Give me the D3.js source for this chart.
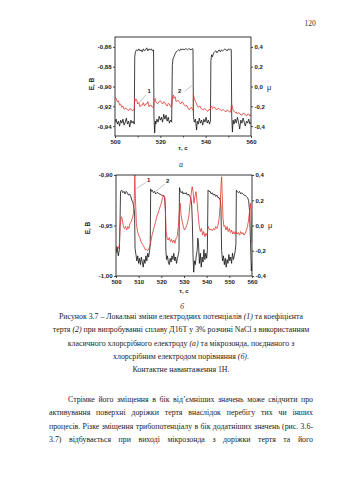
<!DOCTYPE html>
<html><head><meta charset="utf-8">
<script src="https://cdn.jsdelivr.net/npm/d3@7"></script>
<style>body{margin:0;background:#fff}svg{display:block}</style>
</head><body><svg id="c" width="339" height="480"></svg>
<script>
// ---------- DATA ----------
// Chart (a): time, s ; E, V (curve 1, red) ; mu (curve 2, black)
const aTimeTicks = [500, 520, 540, 560];
const aTimeMinor = [510, 530, 550];
const aETicks = [-0.94, -0.92, -0.90, -0.88, -0.86];
const aMuTicks = [-0.4, -0.2, 0.0, 0.2, 0.4];
const aRedE = [[500,-0.9103],[500.5,-0.9120],[501,-0.9153],[501.5,-0.9143],[502,-0.9187],[502.5,-0.9177],[503,-0.9210],[503.5,-0.9197],[504,-0.9231],[504.5,-0.9221],[505,-0.9221],[505.5,-0.9237],[506,-0.9244],[506.5,-0.9224],[507,-0.9227],[507.5,-0.9244],[508,-0.9237],[508.5,-0.9231],[508.7,-0.9120],[509,-0.9143],[509.5,-0.9130],[510,-0.9177],[510.5,-0.9163],[511,-0.9204],[511.5,-0.9190],[512,-0.9187],[512.5,-0.9163],[513,-0.9197],[513.5,-0.9177],[514,-0.9177],[514.5,-0.9153],[515,-0.9204],[515.5,-0.9187],[516,-0.9190],[516.5,-0.9210],[517,-0.9210],[517.3,-0.9130],[517.7,-0.9120],[518,-0.9153],[518.5,-0.9170],[519,-0.9170],[519.5,-0.9153],[520,-0.9143],[520.5,-0.9163],[521,-0.9177],[521.5,-0.9153],[522,-0.9163],[522.5,-0.9187],[523,-0.9197],[523.5,-0.9170],[524,-0.9177],[524.5,-0.9204],[525,-0.9204],[525.4,-0.9103],[525.8,-0.9086],[526,-0.9120],[526.5,-0.9103],[527,-0.9153],[527.5,-0.9143],[528,-0.9143],[528.5,-0.9163],[529,-0.9177],[529.5,-0.9153],[530,-0.9163],[530.5,-0.9187],[531,-0.9197],[531.5,-0.9187],[532,-0.9210],[532.5,-0.9231],[533,-0.9231],[533.5,-0.9210],[534,-0.9221],[534.5,-0.9244],[534.6,-0.9086],[535,-0.9120],[535.5,-0.9153],[536,-0.9177],[536.5,-0.9204],[537,-0.9210],[537.5,-0.9197],[538,-0.9224],[538.5,-0.9231],[539,-0.9237],[539.5,-0.9221],[540,-0.9231],[540.5,-0.9244],[541,-0.9251],[541.5,-0.9231],[542,-0.9237],[542.3,-0.9197],[542.7,-0.9204],[543,-0.9221],[543.5,-0.9210],[544,-0.9210],[544.5,-0.9231],[545,-0.9231],[545.5,-0.9221],[546,-0.9224],[546.5,-0.9237],[547,-0.9244],[547.5,-0.9231],[548,-0.9237],[548.5,-0.9251],[549,-0.9254],[549.5,-0.9237],[550,-0.9244],[550.5,-0.9258],[551,-0.9258],[551.4,-0.9177],[551.8,-0.9204],[552,-0.9231],[552.5,-0.9251],[553,-0.9264],[553.5,-0.9258],[554,-0.9278],[554.5,-0.9264],[555,-0.9271],[555.5,-0.9288],[556,-0.9288],[556.5,-0.9271],[557,-0.9271],[557.5,-0.9288],[558,-0.9298],[558.5,-0.9278],[559,-0.9278],[559.5,-0.9298],[560,-0.9288]];
const aBlackMu = [[500,-0.36],[500.5,-0.33],[501,-0.38],[501.5,-0.35],[502,-0.40],[502.5,-0.34],[503,-0.37],[503.5,-0.33],[504,-0.39],[504.5,-0.36],[505,-0.32],[505.5,-0.38],[506,-0.35],[506.5,-0.41],[507,-0.34],[507.5,-0.37],[508,-0.35],[508.5,-0.38],[508.7,0.30],[509,0.35],[509.5,0.37],[510,0.36],[510.5,0.38],[511,0.36],[511.5,0.37],[512,0.35],[512.5,0.38],[513,0.36],[513.5,0.37],[514,0.39],[514.5,0.36],[515,0.38],[515.5,0.37],[516,0.38],[516.5,0.36],[517,0.37],[517.2,-0.32],[517.5,-0.47],[517.8,-0.35],[518,-0.38],[518.5,-0.33],[519,-0.36],[519.5,-0.30],[520,-0.34],[520.5,-0.31],[521,-0.36],[521.5,-0.28],[522,-0.33],[522.5,-0.29],[523,-0.35],[523.5,-0.31],[524,-0.37],[524.5,-0.34],[525,-0.36],[525.3,0.22],[525.6,0.28],[526,0.30],[526.5,0.33],[527,0.35],[527.5,0.36],[528,0.37],[528.5,0.36],[529,0.38],[529.5,0.37],[530,0.38],[530.5,0.37],[531,0.38],[531.5,0.38],[532,0.37],[532.5,0.38],[533,0.38],[533.5,0.37],[534,0.38],[534.4,0.38],[534.6,-0.30],[535,-0.36],[535.5,-0.33],[536,-0.44],[536.3,-0.35],[536.8,-0.38],[537.2,-0.32],[537.7,-0.37],[538.2,-0.34],[538.7,-0.39],[539.2,-0.33],[539.7,-0.36],[540.2,-0.31],[540.7,-0.37],[541.2,-0.34],[541.7,-0.38],[542.1,-0.35],[542.3,0.26],[542.6,0.32],[543,0.30],[543.5,0.34],[544,0.35],[544.5,0.36],[545,0.34],[545.5,0.36],[546,0.37],[546.5,0.35],[547,0.37],[547.5,0.36],[548,0.37],[548.5,0.38],[549,0.37],[549.5,0.36],[550,0.38],[550.5,0.37],[551,0.38],[551.3,0.37],[551.5,-0.30],[551.8,-0.46],[552.1,-0.34],[552.5,-0.38],[553,-0.33],[553.5,-0.37],[554,-0.31],[554.5,-0.36],[555,-0.43],[555.5,-0.34],[556,-0.37],[556.5,-0.32],[557,-0.36],[557.5,-0.40],[558,-0.35],[558.5,-0.37],[559,-0.33],[559.5,-0.38],[560,-0.36]];

// Chart (b)
const bTimeTicks = [500, 510, 520, 530, 540, 550, 560];
const bETicks = [-1.00, -0.95, -0.90];
const bMuTicks = [-0.4, -0.2, 0.0, 0.2, 0.4];
const bRedE = [[500,-0.970],[500.5,-0.9717],[501,-0.973],[501.5,-0.969],[501.8,-0.951],[502.3,-0.9413],[502.7,-0.943],[503.2,-0.950],[503.7,-0.953],[504.2,-0.951],[504.7,-0.9545],[505.2,-0.951],[505.7,-0.953],[506.2,-0.948],[506.7,-0.946],[507.2,-0.943],[507.7,-0.938],[508,-0.928],[508.3,-0.900],[508.6,-0.9248],[509,-0.948],[509.5,-0.956],[510,-0.9595],[510.5,-0.962],[511,-0.966],[511.5,-0.9677],[512,-0.970],[512.5,-0.9717],[513,-0.9743],[513.5,-0.9737],[514,-0.975],[514.5,-0.973],[515,-0.970],[515.5,-0.9644],[516,-0.9585],[516.5,-0.9545],[517,-0.950],[517.5,-0.946],[518,-0.9413],[518.5,-0.938],[519,-0.9347],[519.5,-0.931],[520,-0.928],[520.5,-0.923],[521,-0.9198],[521.5,-0.9215],[521.8,-0.9347],[522.1,-0.956],[522.6,-0.9628],[523,-0.9644],[523.5,-0.962],[524,-0.966],[524.5,-0.9637],[525,-0.967],[525.5,-0.9644],[526,-0.9677],[526.5,-0.9628],[527,-0.9611],[527.5,-0.951],[528,-0.9347],[528.3,-0.928],[528.7,-0.9396],[529.2,-0.946],[529.7,-0.951],[530.2,-0.9545],[530.7,-0.953],[531.2,-0.950],[531.7,-0.946],[532.2,-0.9396],[532.7,-0.928],[533.2,-0.9181],[533.6,-0.9116],[534,-0.9165],[534.4,-0.928],[534.8,-0.9215],[535.3,-0.9165],[535.7,-0.9248],[536.2,-0.938],[536.7,-0.950],[537.2,-0.956],[537.7,-0.953],[538.2,-0.9595],[538.7,-0.956],[539.2,-0.9611],[539.7,-0.9578],[540.2,-0.960],[540.6,-0.951],[541,-0.953],[541.5,-0.9545],[542,-0.9535],[542.5,-0.955],[543,-0.953],[543.5,-0.9545],[544,-0.951],[544.5,-0.953],[545,-0.950],[545.5,-0.943],[546,-0.928],[546.3,-0.9116],[546.6,-0.9017],[546.9,-0.9215],[547.2,-0.943],[547.6,-0.951],[548,-0.950],[548.5,-0.9545],[549,-0.951],[549.5,-0.956],[550,-0.953],[550.5,-0.957],[551,-0.9545],[551.5,-0.9585],[552,-0.956],[552.5,-0.9585],[553,-0.956],[553.5,-0.9585],[554,-0.957],[554.5,-0.9595],[555,-0.956],[555.5,-0.9585],[556,-0.957],[556.5,-0.9595],[557,-0.9578],[557.5,-0.955],[558,-0.951],[558.5,-0.9446],[559,-0.9347],[559.4,-0.928],[559.7,-0.951],[560,-0.9677]];
const bBlackMu = [[500,-0.22],[500.5,-0.17],[501,-0.24],[501.5,-0.19],[501.8,0.05],[502,0.27],[502.5,0.28],[503,0.26],[503.5,0.27],[504,0.25],[504.5,0.27],[505,0.26],[505.5,0.24],[506,0.25],[506.5,0.23],[507,0.20],[507.5,0.18],[507.9,0.14],[508.2,0.10],[508.4,-0.18],[508.8,-0.23],[509.2,-0.28],[509.6,-0.24],[510,-0.30],[510.4,-0.26],[510.8,-0.31],[511.2,-0.25],[511.6,-0.29],[512,-0.33],[512.4,-0.27],[512.8,-0.30],[513.2,-0.24],[513.6,-0.28],[514,-0.22],[514.4,-0.25],[514.8,-0.20],[515.1,-0.15],[515.3,0.29],[515.6,0.27],[516,0.28],[516.5,0.26],[517,0.27],[517.5,0.25],[518,0.26],[518.5,0.26],[519,0.25],[519.5,0.25],[520,0.24],[520.5,0.24],[521,0.23],[521.5,0.22],[521.8,0.12],[522,-0.20],[522.3,-0.27],[522.7,-0.24],[523.1,-0.29],[523.5,-0.31],[523.9,-0.26],[524.3,-0.29],[524.7,-0.24],[525.1,-0.27],[525.5,-0.22],[525.9,-0.28],[526.3,-0.25],[526.7,-0.30],[527.1,-0.26],[527.5,-0.23],[527.8,-0.20],[528,0.30],[528.4,0.27],[528.8,0.26],[529.2,0.27],[529.6,0.25],[530,0.26],[530.5,0.25],[531,0.26],[531.5,0.24],[532,0.25],[532.5,0.23],[533,0.22],[533.4,0.16],[533.7,0.02],[534,-0.25],[534.3,-0.37],[534.6,-0.28],[535,-0.31],[535.4,-0.24],[535.8,-0.20],[536.1,-0.10],[536.4,-0.14],[536.8,-0.30],[537.2,-0.22],[537.6,-0.33],[538,-0.25],[538.4,-0.29],[538.8,-0.19],[539.2,-0.27],[539.6,-0.22],[540,-0.26],[540.3,-0.20],[540.6,0.28],[541,0.27],[541.5,0.27],[542,0.25],[542.5,0.26],[543,0.24],[543.5,0.25],[544,0.23],[544.5,0.24],[545,0.22],[545.5,0.22],[546,0.20],[546.3,0.15],[546.6,-0.20],[547,-0.28],[547.4,-0.24],[547.8,-0.31],[548.2,-0.26],[548.6,-0.33],[549,-0.27],[549.4,-0.30],[549.8,-0.23],[550.2,-0.28],[550.6,-0.25],[551,-0.30],[551.4,-0.22],[551.8,-0.27],[552.2,-0.24],[552.6,-0.20],[552.9,-0.15],[553.1,0.28],[553.5,0.27],[554,0.26],[554.5,0.27],[555,0.25],[555.5,0.26],[556,0.25],[556.5,0.24],[557,0.24],[557.5,0.23],[558,0.22],[558.5,0.20],[558.9,0.12],[559.3,-0.10],[559.7,-0.36],[560,-0.30]];

const pageNumber = "120";
const captionLines = [
  [["Рисунок 3.7 – Локальні зміни електродних потенціалів ",0],["(1)",1],[" та коефіцієнта",0]],
  [["тертя ",0],["(2)",1],[" при випробуванні сплаву Д16Т у 3% розчині NaCl з використанням",0]],
  [["класичного хлорсрібного електроду ",0],["(а)",1],[" та мікрозонда, поєднаного з",0]],
  [["хлорсрібним електродом порівняння ",0],["(б)",1],[".",0]],
  [["Контактне навантаження 1Н.",0]]
];
const paragraphLines = [
  "Стрімке його зміщення в бік від’ємніших значень може свідчити про",
  "активування поверхні доріжки тертя внаслідок перебігу тих чи інших",
  "процесів. Різке зміщення трибопотенціалу в бік додатніших значень (рис. 3.6-",
  "3.7) відбувається при виході мікрозонда з доріжки тертя та його"
];

// ---------- DRAW ----------
const svg = d3.select("#c");
const SANS = "'Liberation Sans', Arial, sans-serif";
const SERIF = "'Liberation Serif', 'Times New Roman', serif";
const comma = s => s.replace(".", ",").replace("\u2212", "-");

function chart(o){
  const x = d3.scaleLinear().domain([500,560]).range([o.x0,o.x1]);
  const yE = d3.scaleLinear().domain(o.eDomain).range([o.y1,o.y0]);
  const yM = d3.scaleLinear().domain(o.muDomain).range([o.y1,o.y0]);
  const g = svg.append("g");
  const fE = d3.format(o.eFmt), fM = d3.format(".1f"), fT = d3.format("d");

  const ax = (sel) => { sel.selectAll("text").attr("font-family",SANS).attr("font-size",6).attr("font-weight","bold").attr("fill","#222");
    sel.selectAll("line").attr("stroke","#222").attr("stroke-width",0.8); sel.select(".domain").remove(); };

  g.append("g").attr("transform",`translate(${o.x0},0)`)
    .call(d3.axisLeft(yE).tickValues(o.eTicks).tickSize(2).tickPadding(1.5).tickFormat(d=>comma(fE(d)))).call(ax);
  g.append("g").attr("transform",`translate(${o.x1},0)`)
    .call(d3.axisRight(yM).tickValues(o.muTicks).tickSize(2).tickPadding(1.5).tickFormat(d=>comma(fM(d)))).call(ax);
  g.append("g").attr("transform",`translate(0,${o.y1})`)
    .call(d3.axisBottom(x).tickValues(o.tTicks).tickSize(2).tickPadding(1.5).tickFormat(fT)).call(ax);
  if (o.tMinor) g.append("g").attr("transform",`translate(0,${o.y1})`)
    .call(d3.axisBottom(x).tickValues(o.tMinor).tickSize(1.5).tickFormat("")).call(ax);

  const clipId = "clip"+o.id;
  g.append("clipPath").attr("id",clipId).append("rect")
    .attr("x",o.x0).attr("y",o.y0-1).attr("width",o.x1-o.x0).attr("height",o.y1-o.y0+2);

  const lineM = d3.line().x(d=>x(d[0])).y(d=>yM(d[1]));
  const lineE = d3.line().x(d=>x(d[0])).y(d=>yE(d[1]));
  g.append("path").datum(o.black).attr("d",lineM).attr("fill","none")
    .attr("stroke","#111").attr("stroke-width",0.8).attr("clip-path",`url(#${clipId})`);
  g.append("path").datum(o.red).attr("d",lineE).attr("fill","none")
    .attr("stroke","#e0352f").attr("stroke-width",0.8).attr("clip-path",`url(#${clipId})`);

  // frame
  g.append("rect").attr("x",o.x0).attr("y",o.y0).attr("width",o.x1-o.x0).attr("height",o.y1-o.y0)
    .attr("fill","none").attr("stroke","#222").attr("stroke-width",0.9);

  // axis titles
  g.append("text").attr("transform",`translate(${o.eLab[0]},${o.eLab[1]}) rotate(-90)`)
    .attr("text-anchor","middle").attr("font-family",SANS).attr("font-size",6.5).attr("font-weight","bold").attr("fill","#222").text("E, В");
  g.append("text").attr("x",o.muLab[0]).attr("y",o.muLab[1])
    .attr("font-family",SANS).attr("font-size",7.5).attr("fill","#222").text("μ");
  g.append("text").attr("x",(o.x0+o.x1)/2).attr("y",o.tLabY).attr("text-anchor","middle")
    .attr("font-family",SANS).attr("font-size",6).attr("font-weight","bold").attr("fill","#222").text("τ, с");

  // curve labels with leaders
  o.labels.forEach(l=>{
    g.append("line").attr("x1",l.from[0]).attr("y1",l.from[1]).attr("x2",l.to[0]).attr("y2",l.to[1])
      .attr("stroke","#888").attr("stroke-width",0.5);
    g.append("text").attr("x",l.pos[0]).attr("y",l.pos[1]).attr("font-family",SANS).attr("font-size",6)
      .attr("font-weight","bold").attr("fill","#222").text(l.text);
  });
}

chart({id:"a", x0:115, x1:251, y0:37, y1:136, eDomain:[-0.95,-0.85], muDomain:[-0.5,0.5], eFmt:".2f",
  eTicks:aETicks, muTicks:aMuTicks, tTicks:aTimeTicks, tMinor:aTimeMinor, red:aRedE, black:aBlackMu,
  eLab:[94,84], muLab:[267,90], tLabY:150,
  labels:[{text:"1",pos:[147.5,93],from:[146,95],to:[139,103]},{text:"2",pos:[178,93],from:[184.5,91.5],to:[192.5,85]}]});

chart({id:"b", x0:116, x1:252, y0:175, y1:276, eDomain:[-1.00,-0.90], muDomain:[-0.4,0.4], eFmt:".2f",
  eTicks:bETicks, muTicks:bMuTicks, tTicks:bTimeTicks, tMinor:null, red:bRedE, black:bBlackMu,
  eLab:[90,228], muLab:[268,228], tLabY:293,
  labels:[{text:"1",pos:[147,182],from:[146.5,182],to:[136.5,188.5]},{text:"2",pos:[166,183],from:[165,184],to:[155,191.5]}]});

// sub-figure letters
svg.append("text").attr("x",181).attr("y",167).attr("text-anchor","middle").attr("font-family",SERIF)
  .attr("font-style","italic").attr("font-size",8).attr("fill","#333").text("а");
svg.append("text").attr("x",182).attr("y",309).attr("text-anchor","middle").attr("font-family",SERIF)
  .attr("font-style","italic").attr("font-size",8).attr("fill","#333").text("б");

// page number
svg.append("text").attr("x",310).attr("y",26).attr("text-anchor","middle").attr("font-family",SERIF)
  .attr("font-size",7.5).attr("fill","#333").text(pageNumber);

// caption
const FS = 7.85;
captionLines.forEach((parts,i)=>{
  const t = svg.append("text").attr("x",181).attr("y",319+i*13.3).attr("text-anchor","middle")
    .attr("font-family",SERIF).attr("font-size",FS).attr("fill","#222");
  parts.forEach(p=>t.append("tspan").attr("font-style",p[1]?"italic":"normal").text(p[0]));
});

// justified paragraph
paragraphLines.forEach((line,i)=>{
  const xStart = i===0 ? 68 : 49, xEnd = 313, y = 402+i*13.3;
  const words = line.split(" ");
  const tmp = words.map(w=>svg.append("text").attr("font-family",SERIF).attr("font-size",FS).attr("fill","#222").attr("y",y).text(w));
  const widths = tmp.map(t=>t.node().getComputedTextLength());
  const total = d3.sum(widths);
  const gap = Math.max(1.6, (xEnd-xStart-total)/(words.length-1));
  let xx = xStart;
  tmp.forEach((t,k)=>{ t.attr("x",xx); xx += widths[k]+gap; });
});
</script></body></html>
